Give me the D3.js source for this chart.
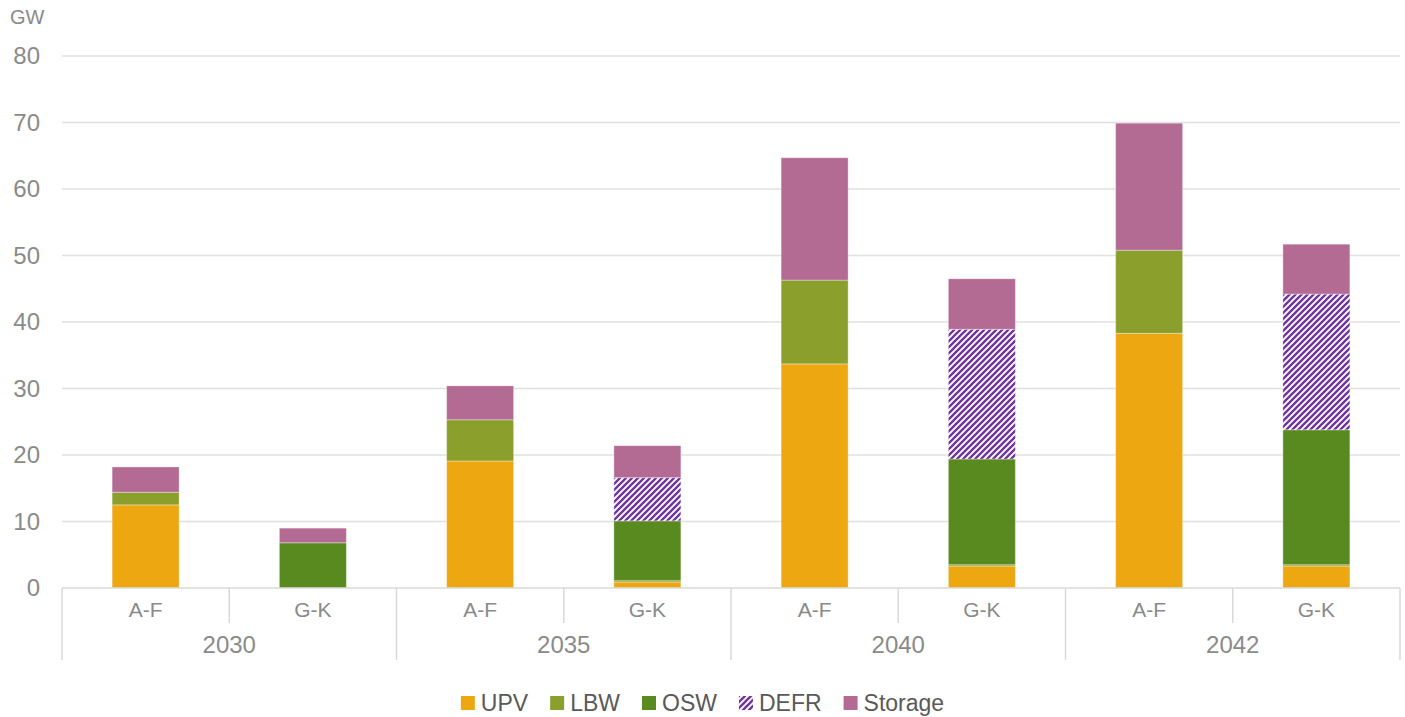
<!DOCTYPE html>
<html>
<head>
<meta charset="utf-8">
<script src="https://cdn.jsdelivr.net/npm/d3@7"></script>
<style>
  html, body { margin: 0; padding: 0; background: #fff; }
  svg { display: block; }
  text { font-family: "Liberation Sans", Arial, sans-serif; }
</style>
</head>
<body>
<svg id="chart" width="1405" height="717"></svg>
<script>
// ---- data ----
const years = ["2030", "2035", "2040", "2042"];
const regions = ["A-F", "G-K"];
const seriesNames = ["UPV", "LBW", "OSW", "DEFR", "Storage"];
const UPV     = [12.5, 0,   19.1, 0.9, 33.7, 3.3,  38.3, 3.3];
const LBW     = [1.9,  0,   6.2,  0.2, 12.6, 0.2,  12.5, 0.2];
const OSW     = [0,    6.8, 0,    9.0, 0,    15.9, 0,    20.3];
const DEFR    = [0,    0,   0,    6.5, 0,    19.5, 0,    20.4];
const Storage = [3.8,  2.2, 5.1,  4.8, 18.4, 7.6,  19.1, 7.5];
const yTicks = [0, 10, 20, 30, 40, 50, 60, 70, 80];
const yUnit = "GW";

// ---- build table ----
const seriesValues = { UPV, LBW, OSW, DEFR, Storage };
const rows = [];
years.forEach((yr, yi) => regions.forEach((r, ri) => {
  const i = yi * regions.length + ri;
  const row = { key: yr + "|" + r, year: yr, region: r };
  seriesNames.forEach(s => row[s] = seriesValues[s][i]);
  rows.push(row);
}));

const colors = { UPV: "#EDA711", LBW: "#8B9F2C", OSW: "#588A1F", DEFR: "url(#defr)", Storage: "#B36A93" };

const svg = d3.select("#chart");
const W = 1405, H = 717;
const plotL = 62, plotR = 1400, plotT = 56, plotB = 588;

// pattern
const defs = svg.append("defs");
const pat = defs.append("pattern").attr("id", "defr")
  .attr("patternUnits", "userSpaceOnUse").attr("width", 6).attr("height", 6);
pat.append("rect").attr("width", 6).attr("height", 6).attr("fill", "#fff");
pat.append("path").attr("d", "M-1.5,1.5 L1.5,-1.5 M0,6 L6,0 M4.5,7.5 L7.5,4.5")
  .attr("stroke", "#7030A0").attr("stroke-width", 2.3).attr("stroke-linecap", "square");

const x = d3.scaleBand().domain(rows.map(d => d.key)).range([plotL, plotR]).paddingInner(0).paddingOuter(0);
const y = d3.scaleLinear().domain([0, 80]).range([plotB, plotT]);

// gridlines
svg.append("g").selectAll("line").data(yTicks.filter(t => t > 0)).join("line")
  .attr("x1", plotL).attr("x2", plotR)
  .attr("y1", d => y(d)).attr("y2", d => y(d))
  .attr("stroke", "#e0e0e0").attr("stroke-width", 1.5);

// y axis labels
const yAxis = d3.axisLeft(y).tickValues(yTicks).tickSize(0).tickPadding(0);
const gy = svg.append("g").attr("transform", `translate(40,0)`).call(yAxis);
gy.select(".domain").remove();
gy.selectAll("text").attr("font-size", 24).attr("fill", "#8a8a8a")
  .attr("font-family", "Liberation Sans, Arial, sans-serif");

svg.append("text").attr("x", 10).attr("y", 24).attr("font-size", 20).attr("fill", "#8a8a8a").text(yUnit);

// stacked bars
const stack = d3.stack().keys(seriesNames);
const stacked = stack(rows);
const barW = 67;
const gb = svg.append("g");
stacked.forEach(layer => {
  gb.append("g").selectAll("rect").data(layer.filter(d => d[1] - d[0] > 0)).join("rect")
    .attr("x", d => x(d.data.key) + x.bandwidth() / 2 - barW / 2)
    .attr("width", barW)
    .attr("y", d => y(d[1]))
    .attr("height", d => y(d[0]) - y(d[1]))
    .attr("fill", colors[layer.key])
    .attr("stroke", "rgba(255,255,255,0.35)").attr("stroke-width", 1);
});

// x axis
const axisColor = "#d9d9d9";
svg.append("line").attr("x1", plotL).attr("x2", plotR).attr("y1", plotB).attr("y2", plotB)
  .attr("stroke", axisColor).attr("stroke-width", 1.5);
const gx = svg.append("g");
rows.forEach((d, i) => {
  const xs = x(d.key);
  const isGroup = i % regions.length === 0;
  gx.append("line").attr("x1", xs).attr("x2", xs).attr("y1", plotB).attr("y2", isGroup ? 660 : 623)
    .attr("stroke", axisColor).attr("stroke-width", 1.5);
});
gx.append("line").attr("x1", plotR).attr("x2", plotR).attr("y1", plotB).attr("y2", 660)
  .attr("stroke", axisColor).attr("stroke-width", 1.5);
gx.selectAll("text.region").data(rows).join("text").attr("class", "region")
  .attr("x", d => x(d.key) + x.bandwidth() / 2).attr("y", 617)
  .attr("text-anchor", "middle").attr("font-size", 21).attr("fill", "#8a8a8a")
  .text(d => d.region);
gx.selectAll("text.year").data(years).join("text").attr("class", "year")
  .attr("x", d => x(d + "|" + regions[0]) + x.bandwidth() * regions.length / 2).attr("y", 653)
  .attr("text-anchor", "middle").attr("font-size", 24).attr("fill", "#8a8a8a")
  .text(d => d);

// legend
const lg = svg.append("g");
const items = lg.selectAll("g").data(seriesNames).join("g");
items.append("rect").attr("width", 14).attr("height", 14).attr("y", 696)
  .attr("fill", d => colors[d]);
items.append("text").attr("x", 20).attr("y", 711).attr("font-size", 23).attr("fill", "#595959").text(d => d);
const widths = [];
items.each(function() { widths.push(20 + this.querySelector("text").getComputedTextLength()); });
const gap = 22;
const total = d3.sum(widths) + gap * (widths.length - 1);
let cx = W / 2 - total / 2;
items.attr("transform", (d, i) => { const t = `translate(${cx},0)`; cx += widths[i] + gap; return t; });
</script>
</body>
</html>
